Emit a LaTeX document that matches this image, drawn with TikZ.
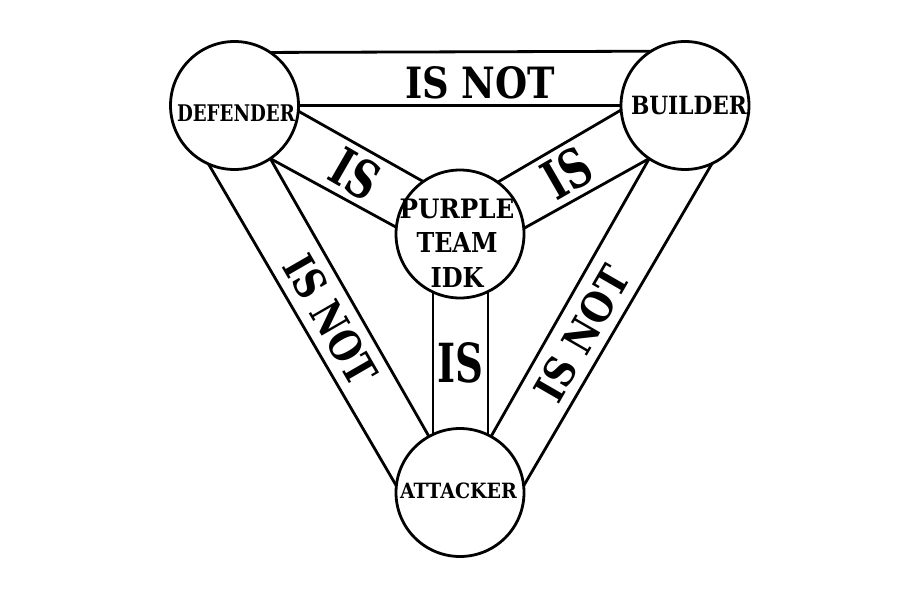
\documentclass[tikz,border=0pt]{standalone}
\usepackage{fontspec}
\setmainfont{DejaVu Serif}
\usepackage{graphicx}
\begin{document}
\begin{tikzpicture}[x=1pt,y=-1pt]
\tikzset{
  ring/.style={circle, draw, line width=2.8pt, minimum size=128pt, inner sep=0pt, outer sep=0pt, fill=white},
  band/.style={line width=2.8pt},
  lbl/.style={inner sep=0pt, font=\bfseries},
}
\useasboundingbox[fill=white] (0,0) rectangle (920,599);
% circles
\node[ring] (D) at (234.5,105.5) {};
\node[ring] (B) at (685,105.5) {};
\node[ring] (P) at (460,234) {};
\node[ring] (A) at (460,492.5) {};
% bands
\draw[band] (D.56.4) -- (B.122.5);
\draw[band] (D.0) -- (B.180);
\draw[band] (D.-5.7) -- (P.125.4);
\draw[band] (D.-56) -- (P.174.7);
\draw[band] (B.-176) -- (P.54.9);
\draw[band] (B.-124) -- (P.5.3);
\draw[band] (P.-115.45) -- (A.115.45);
\draw[band] (P.-64.55) -- (A.64.55);
\draw[band] (D.-56) -- (A.119);
\draw[band] (D.-114.8) -- (A.174);
\draw[band] (B.-124) -- (A.61);
\draw[band] (B.-65.2) -- (A.6);
% circle labels
\node[lbl] (Dt) at (236,113.3) {\resizebox{118pt}{16.7pt}{DEFENDER}};
\node[lbl] (Bt) at (689,106) {\resizebox{116pt}{18.3pt}{BUILDER}};
\node[lbl] (At) at (458.5,490.5) {\resizebox{117pt}{15.6pt}{ATTACKER}};
\node[lbl, align=center, font=\bfseries\fontsize{20}{34.5}\selectfont] (Pt) at (457,243)
  {\resizebox{115pt}{19.5pt}{PURPLE}\\\resizebox{81pt}{20pt}{TEAM}\\\resizebox{53pt}{20pt}{IDK}};
% band labels
\node[lbl] (Tn) at (480,82.5) {\resizebox{150pt}{32pt}{IS NOT}};
\node[lbl, rotate=-30] (L1) at (355,174) {\resizebox{47pt}{39pt}{IS}};
\node[lbl, rotate=30] (R1) at (567,173) {\resizebox{47pt}{40pt}{IS}};
\node[lbl] (M1) at (460,363) {\resizebox{46pt}{40pt}{IS}};
\node[lbl, rotate=-60] (L2) at (331,320) {\resizebox{142pt}{32pt}{IS NOT}};
\node[lbl, rotate=60] (R2) at (582,334) {\resizebox{148pt}{31pt}{IS NOT}};
\end{tikzpicture}
\end{document}
